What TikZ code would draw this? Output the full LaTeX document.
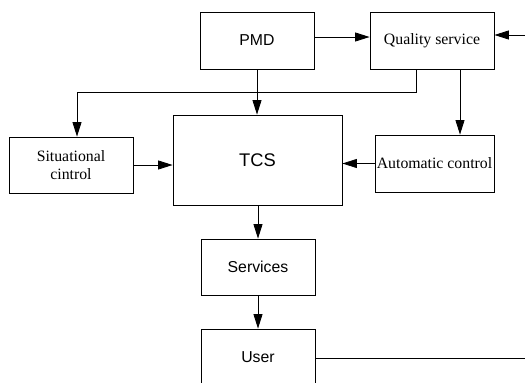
\documentclass[tikz,border=0pt]{standalone}
\usepackage{fontspec}
\setmainfont{Liberation Serif}
\setsansfont{Liberation Sans}
\usetikzlibrary{arrows.meta}
\begin{document}
\begin{tikzpicture}[x=1pt,y=-1pt,
  box/.style={draw=black,line width=0.8pt,inner sep=1pt,align=center},
  sbox/.style={box,font=\sffamily\fontsize{15.8}{18}\selectfont},
  rbox/.style={box,font=\fontsize{15.8}{18}\selectfont},
  arr/.style={line width=0.8pt,-{Triangle[length=14.5pt,width=9pt]}},
  ln/.style={line width=0.8pt}]
\useasboundingbox (0,0) rectangle (525,383);
\clip (0,0) rectangle (525,383);

% blocks
\node[sbox,minimum width=114pt,minimum height=57pt] (pmd) at (257,40.5) {PMD};
\node[rbox,minimum width=124pt,minimum height=57pt] (qs) at (432,40.5) {Quality service};
\node[rbox,minimum width=124pt,minimum height=56pt] (sit) at (71,165) {Situational\\cintrol};
\node[box,font=\sffamily\fontsize{18.3}{21}\selectfont,minimum width=169pt,minimum height=90pt] (tcs) at (257.5,160) {TCS};
\node[rbox,minimum width=119pt,minimum height=57pt] (auto) at (434.5,163.5) {Automatic control};
\node[sbox,minimum width=114pt,minimum height=56pt] (srv) at (258,267) {Services};
\node[sbox,minimum width=114pt,minimum height=57pt] (usr) at (258,357.5) {User};

% loose ends at the right border
\coordinate (rin) at (525,35);
\coordinate (rout) at (525,358);
\coordinate (bend) at (77,92);

% connectors
\draw[arr] ([yshift=3.5pt]pmd.east) -- ([yshift=3.5pt]qs.west);
\draw[arr] (rin) -- (rin -| qs.east);
\draw[arr] ([xshift=-16pt]qs.south) |- (bend) -- (bend |- sit.north);
\draw[arr] ([xshift=28pt]qs.south) -- ([xshift=28pt]qs.south |- auto.north);
\draw[arr] (pmd.south) -- (pmd.south |- tcs.north);
\draw[arr] (sit.east) -- (sit.east -| tcs.west);
\draw[arr] (auto.west) -- (auto.west -| tcs.east);
\draw[arr] (tcs.south -| srv.north) -- (srv.north);
\draw[arr] (srv.south) -- (usr.north);
\draw[ln] (usr.east |- rout) -- (rout);
\end{tikzpicture}
\end{document}
